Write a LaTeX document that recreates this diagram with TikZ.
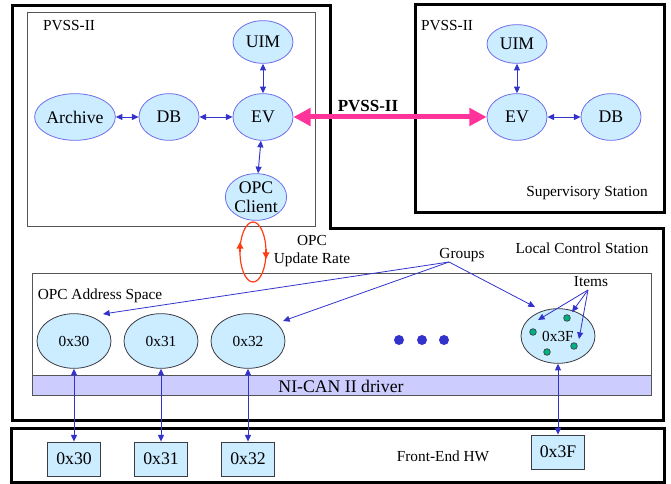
\documentclass[tikz,border=0pt]{standalone}
\usepackage{fontspec}
\setmainfont{Liberation Serif}
\usetikzlibrary{arrows.meta,shapes.geometric}
\definecolor{nfill}{RGB}{204,236,255}
\definecolor{pvborder}{RGB}{110,110,235}
\definecolor{adborder}{RGB}{60,60,70}
\definecolor{ablue}{RGB}{51,51,204}
\definecolor{pinkc}{RGB}{255,51,153}
\definecolor{loopred}{RGB}{255,60,20}
\definecolor{bandc}{RGB}{204,204,255}
\definecolor{boxgray}{RGB}{85,85,85}
\definecolor{gdotc}{RGB}{0,176,128}
\begin{document}
\begin{tikzpicture}[x=0.75pt,y=-0.75pt,
  big/.style={font=\fontsize{13.3}{15}\selectfont},
  small/.style={font=\fontsize{11.5}{13.5}\selectfont},
  pv/.style={ellipse,draw=pvborder,fill=nfill,line width=0.6pt,inner sep=0pt,minimum width=45pt,minimum height=35pt,big},
  addr/.style={ellipse,draw=adborder,fill=nfill,line width=0.6pt,inner sep=0pt,minimum width=55.5pt,minimum height=41pt,small},
  hwbox/.style={rectangle,draw=adborder,fill=nfill,line width=0.6pt,inner sep=0pt,minimum width=40pt,minimum height=25.5pt,big},
  link/.style={draw=ablue,line width=0.7pt,{Triangle[length=5pt,width=4.5pt]}-{Triangle[length=5pt,width=4.5pt]}},
  ptr/.style={draw=ablue,line width=0.6pt,-{Triangle[length=5pt,width=4.5pt]}},
  thickbox/.style={draw=black,line width=2.25pt},
  thinbox/.style={draw=boxgray,line width=0.75pt},
  bdot/.style={circle,fill=ablue,inner sep=0pt,minimum size=7.5pt},
  gdot/.style={circle,fill=gdotc,draw=adborder,line width=0.5pt,inner sep=0pt,minimum size=5pt},
  lbl/.style={small,inner sep=0pt}
]
\useasboundingbox (0,0) rectangle (671,484);
% outer station boxes
\draw[thickbox] (12,6) -- (330,6) -- (330,229) -- (663,229) -- (663,421) -- (12,421) -- cycle;
\draw[thickbox] (415,5) rectangle (664,213);
\draw[thickbox] (11,428) rectangle (664,482);
% inner PVSS box
\draw[thinbox] (27,13) rectangle (315,227);
\node[lbl] (pvssL) at (69,26) {PVSS-II};
\node[lbl] (pvssR) at (447,26) {PVSS-II};
% OPC address space
\draw[thinbox] (32,274) rectangle (651,396);
\draw[thinbox,fill=bandc] (32,376) rectangle (651,396);
\node[lbl] (oas) at (100,296) {OPC Address Space};
\node[big,inner sep=0pt] (nican) at (341,386) {NI-CAN II driver};
% left PVSS nodes
\node[pv,minimum height=32pt] (uim1) at (263,42) {UIM};
\node[pv] (ev1) at (263,117) {EV};
\node[pv] (db1) at (169,117) {DB};
\node[pv] (arch) at (75,117) {Archive};
\node[pv,align=center,font=\fontsize{13.3}{14}\selectfont] (opc) at (256,197) {OPC\\Client};
\draw[link] (arch) -- (db1);
\draw[link] (db1) -- (ev1);
\draw[link] (uim1) -- (ev1);
\draw[link] (ev1) -- (opc);
% right PVSS nodes
\node[pv,minimum height=29pt] (uim2) at (517,44) {UIM};
\node[pv] (ev2) at (517,117) {EV};
\node[pv] (db2) at (611,117) {DB};
\draw[link] (uim2) -- (ev2);
\draw[link] (ev2) -- (db2);
\node[lbl] (sup) at (587,193) {Supervisory Station};
% pink link
\draw[draw=pinkc,line width=3.75pt,{Triangle[length=13pt,width=13pt]}-{Triangle[length=13pt,width=13pt]}] (ev1) -- (ev2);
\node[big,inner sep=0pt,font=\bfseries\fontsize{12.7}{14}\selectfont] (pvlink) at (368,106) {PVSS-II};
% OPC update rate loop
\draw[loopred,line width=0.9pt] (253,252) ellipse [x radius=13, y radius=30];
\draw[loopred,line width=0.9pt,-{Triangle[length=5pt,width=5pt]}] (240,252) -- (240,242);
\draw[loopred,line width=0.9pt,-{Triangle[length=5pt,width=5pt]}] (266,249) -- (266,259);
\node[lbl,align=center,font=\fontsize{11.5}{13.5}\selectfont] (upd) at (312,251) {OPC\\Update Rate};
\node[lbl] (lcs) at (582,248) {Local Control Station};
% address space nodes
\node[addr] (a30) at (74,341) {0x30};
\node[addr] (a31) at (161,341) {0x31};
\node[addr] (a32) at (248,341) {0x32};
\node[addr] (a3f) at (558,336) {0x3F};
\node[bdot] (d1) at (399,340) {};
\node[bdot] (d2) at (422,340) {};
\node[bdot] (d3) at (444,340) {};
\node[gdot] (g1) at (533,332) {};
\node[gdot] (g2) at (567,318) {};
\node[gdot] (g3) at (574,346) {};
\node[gdot] (g4) at (547,352) {};
% groups
\node[lbl] (groups) at (462,255) {Groups};
\coordinate (gsrc) at (449,262);
\coordinate (t30) at (103,314);
\coordinate (t32) at (283,321);
\coordinate (t3f) at (535,307);
\draw[ptr] (gsrc) -- (t30);
\draw[ptr] (gsrc) -- (t32);
\draw[ptr] (gsrc) -- (t3f);
% items
\node[lbl] (items) at (591,282) {Items};
\coordinate (isrc) at (588,290);
\coordinate (i1) at (538,320);
\coordinate (i2) at (572,312);
\coordinate (i3) at (579,339);
\draw[ptr] (isrc) -- (i1);
\draw[ptr] (isrc) -- (i2);
\draw[ptr] (isrc) -- (i3);
% front-end hardware
\node[lbl] (fe) at (443,456) {Front-End HW};
\node[hwbox] (h30) at (74,459) {0x30};
\node[hwbox] (h31) at (161,459) {0x31};
\node[hwbox] (h32) at (248,459) {0x32};
\node[hwbox] (h3f) at (558,452) {0x3F};
\draw[link] (a30) -- (h30);
\draw[link] (a31) -- (h31);
\draw[link] (a32) -- (h32);
\draw[link] (a3f) -- (h3f);
\end{tikzpicture}
\end{document}
